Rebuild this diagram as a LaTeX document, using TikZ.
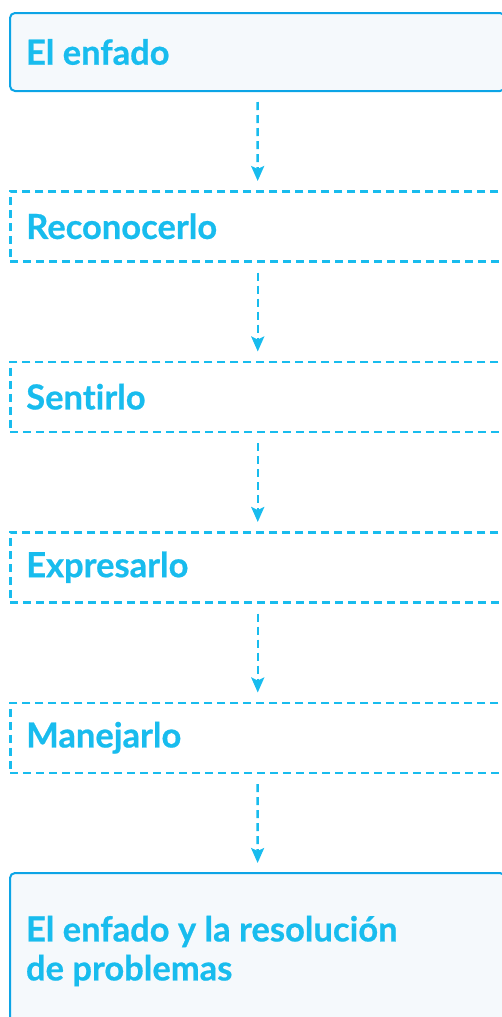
\documentclass[tikz,border=0pt]{standalone}
\usepackage{fontspec}
\setmainfont{Lato}[RawFeature=-liga, BoldFeatures={FakeBold=0.6}]
\usepackage{xcolor}
\usepackage{tikz}
\usetikzlibrary{positioning, arrows.meta}
\definecolor{sky}{RGB}{24,188,238}
\definecolor{skyline}{RGB}{12,164,230}
\definecolor{mist}{RGB}{245,249,252}

\begin{document}
\begin{tikzpicture}[x=1pt, y=-1pt, node distance=98pt,
    headbox/.style={draw=skyline, line width=2pt, fill=mist, rounded corners=5pt,
      anchor=north west, text width=463pt, inner xsep=16pt, minimum height=78pt,
      align=flush left, text=sky, font=\fontsize{34.5}{39}\selectfont\bfseries},
    stepbox/.style={headbox, draw=sky, fill=white, rounded corners=0pt,
      line width=2.5pt, dash pattern=on 8pt off 5pt, minimum height=70pt},
    flow/.style={draw=sky, line width=2.5pt, dash pattern=on 8pt off 5pt,
      -{Stealth[length=15pt,width=13pt,inset=3pt]},
      shorten <=10pt, shorten >=9pt}]
  \useasboundingbox (0,0) rectangle (502,1017);

  \node[headbox] (angry) at (9,12) {El enfado};
  \node[stepbox, below=of angry.south west, anchor=north west] (recog) {Reconocerlo};
  \node[stepbox, below=of recog.south west, anchor=north west] (feel) {Sentirlo};
  \node[stepbox, below=of feel.south west, anchor=north west] (express) {Expresarlo};
  \node[stepbox, below=of express.south west, anchor=north west] (handle) {Manejarlo};
  \node[headbox, below=of handle.south west, anchor=north west, minimum height=156pt]
       (solve) {El enfado y la resolución\\de problemas};

  \draw[flow] (angry) -- (recog);
  \draw[flow] (recog) -- (feel);
  \draw[flow] (feel) -- (express);
  \draw[flow] (express) -- (handle);
  \draw[flow] (handle) -- (solve);
\end{tikzpicture}
\end{document}
